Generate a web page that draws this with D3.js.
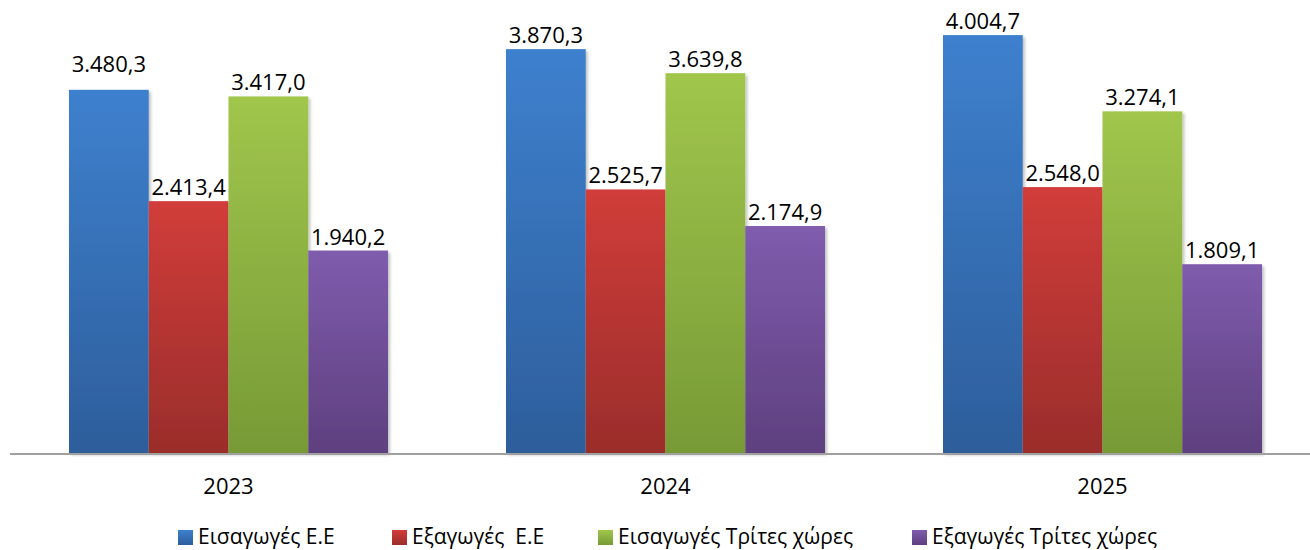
<!DOCTYPE html>
<html>
<head>
<meta charset="utf-8">
<script src="https://cdn.jsdelivr.net/npm/d3@7"></script>
<style>
    body { margin: 0; background: #fff; }
    #trade-bar-chart { width: 1310px; height: 550px; }
    text { font-family: "Open Sans", sans-serif; fill: #000; }
</style>
</head>
<body>
<div id="trade-bar-chart"></div>
<script>
// data
const years = ["2023", "2024", "2025"];
const seriesNames = ["Εισαγωγές Ε.Ε", "Εξαγωγές  Ε.Ε", "Εισαγωγές Τρίτες χώρες", "Εξαγωγές Τρίτες χώρες"];
const importsEU = [3480.3, 3870.3, 4004.7];
const exportsEU = [2413.4, 2525.7, 2548.0];
const importsThird = [3417.0, 3639.8, 3274.1];
const exportsThird = [1940.2, 2174.9, 1809.1];

render();

function render() {
    const divID = d3.select('#trade-bar-chart');
    bar_chart(divID, {
        width: 1310,
        height: 550,
        baseline: 453
    });
}

function bar_chart(selection, props) {
    const { width, height, baseline } = props;

    const allSeries = [importsEU, exportsEU, importsThird, exportsThird];

    // gradient top / bottom colours for each series
    const gradColors = [
        ["#3e80ce", "#2d5e9b"],
        ["#d13d3a", "#9a2d2b"],
        ["#a1c64c", "#779a36"],
        ["#7f5cad", "#5e407f"]
    ];

    const svg = selection.append('svg')
        .attr('width', width)
        .attr('height', height);

    const defs = svg.append('defs');
    gradColors.forEach(function (c, i) {
        const grad = defs.append('linearGradient')
            .attr('id', 'grad' + i)
            .attr('x1', 0).attr('y1', 0).attr('x2', 0).attr('y2', 1);
        grad.append('stop').attr('offset', '0%').attr('stop-color', c[0]);
        grad.append('stop').attr('offset', '100%').attr('stop-color', c[1]);
    });

    const shadow = defs.append('filter').attr('id', 'shadow')
        .attr('x', '-10%').attr('y', '-10%').attr('width', '130%').attr('height', '130%');
    shadow.append('feDropShadow')
        .attr('dx', 2).attr('dy', 2).attr('stdDeviation', 1.5)
        .attr('flood-color', '#000').attr('flood-opacity', 0.25);

    // scales
    const x0 = d3.scaleBand()
        .domain(years)
        .range([10, 1321])
        .paddingInner(0.27)
        .paddingOuter(0.135);

    const x1 = d3.scaleBand()
        .domain(d3.range(allSeries.length))
        .range([0, x0.bandwidth()]);

    const y = d3.scaleLinear()
        .domain([0, 4341])
        .range([baseline, 0]);

    const fmt = d3.formatLocale({ decimal: ",", thousands: ".", grouping: [3], currency: ["", ""] }).format(",.1f");

    const groups = svg.selectAll('.year')
        .data(years)
        .join('g')
        .attr('class', 'year')
        .attr('transform', d => `translate(${x0(d)},0)`);

    groups.selectAll('rect')
        .data((d, i) => allSeries.map((s, k) => ({ k: k, i: i, v: s[i] })))
        .join('rect')
        .attr('x', d => x1(d.k))
        .attr('y', d => y(d.v))
        .attr('width', x1.bandwidth())
        .attr('height', d => baseline - y(d.v))
        .attr('fill', d => `url(#grad${d.k})`)
        .attr('filter', 'url(#shadow)');

    // value labels (the first one sits higher in the original)
    groups.selectAll('.val')
        .data((d, i) => allSeries.map((s, k) => ({ k: k, i: i, v: s[i] })))
        .join('text')
        .attr('class', 'val')
        .attr('x', d => x1(d.k) + x1.bandwidth() / 2)
        .attr('y', d => y(d.v) - (d.i === 0 && d.k === 0 ? 18 : 6))
        .attr('text-anchor', 'middle')
        .style('font-size', '22px')
        .text(d => fmt(d.v));

    // x axis line
    svg.append('line')
        .attr('x1', 10).attr('x2', width)
        .attr('y1', baseline + 1).attr('y2', baseline + 1)
        .attr('stroke', '#a0a0a0')
        .attr('stroke-width', 2);

    const xAxis = svg.append('g')
        .attr('transform', `translate(0,${baseline})`)
        .call(d3.axisBottom(x0).tickSize(0).tickPadding(0));
    xAxis.select('.domain').remove();
    xAxis.selectAll('text')
        .attr('y', 41)
        .attr('dy', 0)
        .style('font-family', '"Open Sans", sans-serif')
        .style('font-size', '22px')
        .style('fill', '#000');

    // legend
    const legendX = [178, 392, 598, 912];
    const legend = svg.selectAll('.legend')
        .data(seriesNames)
        .join('g')
        .attr('class', 'legend')
        .attr('transform', (d, i) => `translate(${legendX[i]},0)`);

    legend.append('rect')
        .attr('x', 0).attr('y', 530)
        .attr('width', 15).attr('height', 15)
        .attr('fill', (d, i) => `url(#grad${i})`);

    legend.append('text')
        .attr('x', 20).attr('y', 544)
        .style('font-size', '21px')
        .style('white-space', 'pre')
        .attr('xml:space', 'preserve')
        .text(d => d);
}
</script>
</body>
</html>
